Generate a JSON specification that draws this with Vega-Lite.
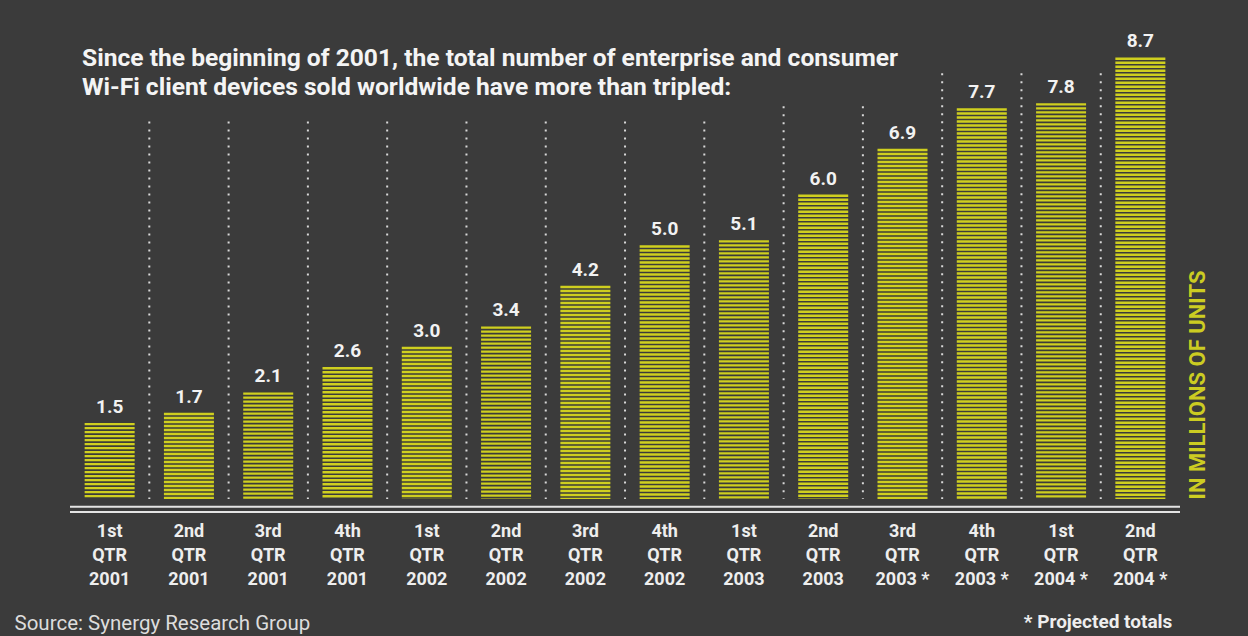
{
  "$schema": "https://vega.github.io/schema/vega-lite/v6.json",
  "width": 1110,
  "height": 515,
  "autosize": {"type": "none"},
  "padding": {"left": 70, "top": 0, "right": 68, "bottom": 121},
  "background": "#3b3b3b",
  "config": {"view": {"stroke": null}, "font": "Roboto, sans-serif"},
  "title": {
    "text": ["Since the beginning of 2001, the total number of enterprise and consumer", "Wi-Fi client devices sold worldwide have more than tripled:"],
    "anchor": "start",
    "frame": "group",
    "orient": "top",
    "baseline": "alphabetic",
    "offset": -120,
    "dx": 12,
    "fontSize": 24.6,
    "fontWeight": "bold",
    "color": "#f4f4f4",
    "lineHeight": 29
  },
  "data": {
    "values": [
      {"quarter": "1st|QTR|2001", "units": 1.5, "divider_top": 7.44},
      {"quarter": "2nd|QTR|2001", "units": 1.7, "divider_top": 7.44},
      {"quarter": "3rd|QTR|2001", "units": 2.1, "divider_top": 7.44},
      {"quarter": "4th|QTR|2001", "units": 2.6, "divider_top": 7.44},
      {"quarter": "1st|QTR|2002", "units": 3.0, "divider_top": 7.44},
      {"quarter": "2nd|QTR|2002", "units": 3.4, "divider_top": 7.44},
      {"quarter": "3rd|QTR|2002", "units": 4.2, "divider_top": 7.44},
      {"quarter": "4th|QTR|2002", "units": 5.0, "divider_top": 7.44},
      {"quarter": "1st|QTR|2003", "units": 5.1, "divider_top": 7.74},
      {"quarter": "2nd|QTR|2003", "units": 6.0, "divider_top": 7.74},
      {"quarter": "3rd|QTR|2003 *", "units": 6.9, "divider_top": 8.39},
      {"quarter": "4th|QTR|2003 *", "units": 7.7, "divider_top": 8.39},
      {"quarter": "1st|QTR|2004 *", "units": 7.8, "divider_top": 8.39},
      {"quarter": "2nd|QTR|2004 *", "units": 8.7, "divider_top": null}
    ]
  },
  "layer": [
    {
      "mark": {"type": "rule", "color": "#cfcf1f", "strokeWidth": 50, "strokeDash": [2.4, 1.6], "strokeCap": "butt"},
      "encoding": {
        "x": {"field": "quarter", "type": "nominal", "sort": null,
              "scale": {"type": "band", "paddingInner": 0.369, "paddingOuter": 0.1845},
              "axis": {
                "title": "Source:  Synergy Research Group",
                "labelExpr": "split(datum.value, '|')",
                "labelAngle": 0,
                "labelFontSize": 18,
                "labelFontWeight": "bold",
                "labelColor": "#eeeeee",
                "labelLineHeight": 24,
                "labelPadding": 7,
                "labelBaseline": "top",
                "ticks": false,
                "domain": false,
                "grid": false,
                "titleAnchor": "start",
                "titleAlign": "left",
                "titleX": -56,
                "titleY": 114,
                "titleBaseline": "alphabetic",
                "titleFontSize": 20.5,
                "titleFontWeight": "normal",
                "titleColor": "#dddddd"
              }},
        "y": {"field": "units", "type": "quantitative",
              "scale": {"domain": [-0.315, 9.833], "nice": false, "zero": false},
              "axis": {
                "orient": "right",
                "labels": false, "ticks": false, "domain": false, "grid": false,
                "title": "IN MILLIONS OF UNITS",
                "titleColor": "#cccc22",
                "titleFontSize": 22,
                "titleFontWeight": "bold",
                "titleAngle": 270,
                "titleAlign": "left",
                "titleBaseline": "middle",
                "titleX": 17,
                "titleY": 499
              }},
        "y2": {"datum": 0}
      }
    },
    {
      "transform": [{"filter": "isValid(datum.divider_top)"}],
      "mark": {"type": "rule", "color": "#d8d8d8", "strokeWidth": 2, "strokeDash": [2, 6], "strokeCap": "butt"},
      "encoding": {
        "x": {"field": "quarter", "type": "nominal", "sort": null, "bandPosition": 1.293},
        "y": {"field": "divider_top", "type": "quantitative"},
        "y2": {"datum": 0}
      }
    },
    {
      "mark": {"type": "text", "color": "#f2f2f2", "fontSize": 19, "fontWeight": "bold", "baseline": "alphabetic", "dy": -10},
      "encoding": {
        "x": {"field": "quarter", "type": "nominal", "sort": null},
        "y": {"field": "units", "type": "quantitative"},
        "text": {"field": "units", "type": "quantitative", "format": ".1f"}
      }
    },
    {
      "data": {"values": [{"line": "upper"}]},
      "mark": {"type": "rule", "color": "#e4e4e4", "strokeWidth": 2},
      "encoding": {
        "y": {"datum": -0.152}
      }
    },
    {
      "data": {"values": [{"line": "lower"}]},
      "mark": {"type": "rule", "color": "#e4e4e4", "strokeWidth": 2},
      "encoding": {
        "y": {"datum": -0.256}
      }
    },
    {
      "data": {"values": [{"note": "* Projected totals"}]},
      "mark": {"type": "text", "color": "#eeeeee", "fontSize": 19, "fontWeight": "bold", "align": "right", "baseline": "alphabetic", "dx": 32},
      "encoding": {
        "x": {"datum": "2nd|QTR|2004 *"},
        "y": {"datum": -2.55},
        "text": {"field": "note"}
      }
    }
  ]
}
